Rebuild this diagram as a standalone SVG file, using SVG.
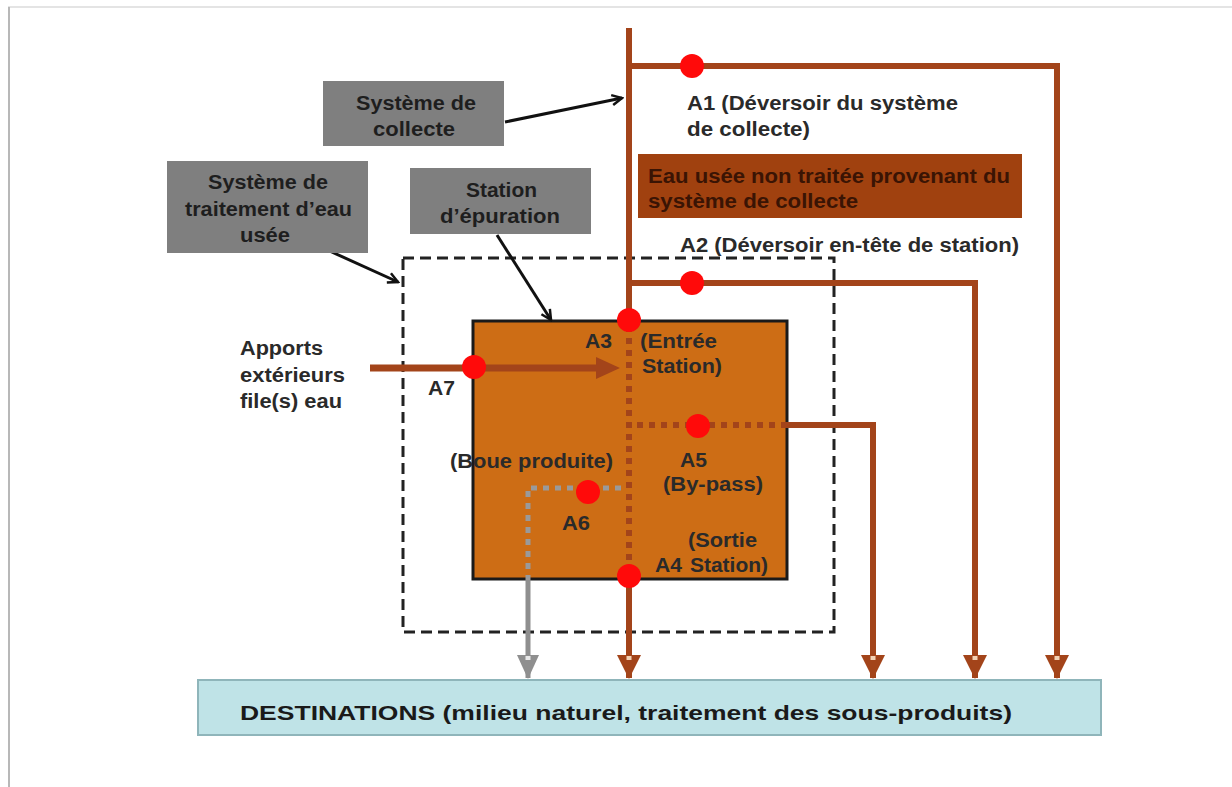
<svg xmlns="http://www.w3.org/2000/svg" width="1232" height="787" viewBox="0 0 1232 787">
<style>
  text { font-family: "Liberation Sans", Arial, sans-serif; font-weight: bold; }
  .lbl { font-size: 20px; fill: #2a2a2a; }
  .box { font-size: 20px; fill: #1e1e1e; }
  .grey { fill: #7f7f7f; }
  .pipe { stroke: #a3441a; stroke-width: 6; fill: none; }
  .dotb { stroke: #a3441a; stroke-width: 6; fill: none; stroke-dasharray: 6 6; }
  .dotg { stroke: #9a9a9a; stroke-width: 5; fill: none; stroke-dasharray: 6 6; }
  .blk { stroke: #111; stroke-width: 3; fill: none; }
  .pt { fill: #ff0a0a; }
</style>
<defs>
  <marker id="ab" viewBox="0 0 26 26" refX="24" refY="13" markerWidth="26" markerHeight="26" markerUnits="userSpaceOnUse" orient="auto">
    <path d="M1,1 L25,13 L1,25 Z" fill="#a3441a"/>
    <rect x="2" y="10.5" width="4" height="5" fill="#f3d2b4"/>
  </marker>
  <marker id="ag" viewBox="0 0 26 26" refX="24" refY="13" markerWidth="26" markerHeight="26" markerUnits="userSpaceOnUse" orient="auto">
    <path d="M1,2 L25,13 L1,24 Z" fill="#8f8f8f"/>
    <rect x="2" y="10.5" width="4" height="5" fill="#e8e8e8"/>
  </marker>
  <marker id="ak" viewBox="0 0 14 14" refX="12" refY="7" markerWidth="14" markerHeight="14" markerUnits="userSpaceOnUse" orient="auto">
    <path d="M2,2 L12,7 L2,12" fill="none" stroke="#111" stroke-width="2.5"/>
  </marker>
</defs>
<rect width="1232" height="787" fill="#ffffff"/>
<line x1="8" y1="7" x2="1232" y2="7" stroke="#e4e4e4" stroke-width="2"/>
<line x1="9" y1="7" x2="9" y2="787" stroke="#b8b8b8" stroke-width="2"/>

<g id="destinations">
  <rect x="198" y="680" width="903" height="55" fill="#bfe3e7" stroke="#8fb5ba" stroke-width="2"/>
  <text x="240" y="720" font-size="21" fill="#1a1a1a" textLength="772" lengthAdjust="spacingAndGlyphs">DESTINATIONS (milieu naturel, traitement des sous-produits)</text>
</g>

<g id="traitement-zone">
  <rect x="403" y="258" width="431" height="374" fill="none" stroke="#222" stroke-width="3" stroke-dasharray="11 6"/>
</g>

<g id="station">
  <rect x="473" y="321" width="314" height="258" fill="#cd6d15" stroke="#1a1a1a" stroke-width="3"/>
</g>

<g id="connectors">
  <line class="pipe" x1="629" y1="28" x2="629" y2="320"/>
  <path class="pipe" d="M629,66 H1057 V678" marker-end="url(#ab)"/>
  <path class="pipe" d="M629,283 H975 V678" marker-end="url(#ab)"/>
  <line class="dotb" x1="629" y1="326" x2="629" y2="572"/>
  <line class="dotb" x1="637" y1="425" x2="787" y2="425"/>
  <path class="pipe" d="M787,425 H873 V678" marker-end="url(#ab)"/>
  <path class="pipe" d="M629,576 V678" marker-end="url(#ab)"/>
  <line x1="370" y1="368" x2="600" y2="368" stroke="#a3441a" stroke-width="7"/>
  <path d="M596,357 L620,368 L596,379 Z" fill="#a3441a"/>
  <path class="dotg" d="M621,488 H528 V580"/>
  <path d="M528,580 V678" stroke="#8f8f8f" stroke-width="5" fill="none" marker-end="url(#ag)"/>
  <line class="blk" x1="505" y1="122" x2="622" y2="98" marker-end="url(#ak)"/>
  <line class="blk" x1="323" y1="248" x2="398" y2="282" marker-end="url(#ak)"/>
  <line class="blk" x1="497" y1="235" x2="551" y2="320" marker-end="url(#ak)"/>
</g>

<g id="points">
  <circle class="pt" cx="692" cy="66" r="12"/>
  <circle class="pt" cx="692" cy="283" r="12"/>
  <circle class="pt" cx="629" cy="320" r="12"/>
  <circle class="pt" cx="474" cy="367" r="12"/>
  <circle class="pt" cx="698" cy="426" r="12"/>
  <circle class="pt" cx="588" cy="492" r="12"/>
  <circle class="pt" cx="629" cy="576" r="12"/>
</g>

<g id="systeme-collecte">
  <rect class="grey" x="323" y="81" width="181" height="65"/>
  <text class="box" x="356" y="110" textLength="120" lengthAdjust="spacingAndGlyphs">Système de</text>
  <text class="box" x="373" y="136" textLength="82" lengthAdjust="spacingAndGlyphs">collecte</text>
</g>

<g id="systeme-traitement">
  <rect class="grey" x="167" y="161" width="201" height="92"/>
  <text class="box" x="208" y="189" textLength="120" lengthAdjust="spacingAndGlyphs">Système de</text>
  <text class="box" x="185" y="216" textLength="167" lengthAdjust="spacingAndGlyphs">traitement d’eau</text>
  <text class="box" x="240" y="242" textLength="50" lengthAdjust="spacingAndGlyphs">usée</text>
</g>

<g id="station-epuration">
  <rect class="grey" x="410" y="168" width="181" height="66"/>
  <text class="box" x="466" y="197" textLength="71" lengthAdjust="spacingAndGlyphs">Station</text>
  <text class="box" x="440" y="223" textLength="120" lengthAdjust="spacingAndGlyphs">d’épuration</text>
</g>

<g id="eau-usee">
  <rect x="638" y="154" width="384" height="64" fill="#a0410f"/>
  <text x="648" y="183" font-size="20" fill="#3a1404" textLength="362" lengthAdjust="spacingAndGlyphs">Eau usée non traitée provenant du</text>
  <text x="648" y="208" font-size="20" fill="#3a1404" textLength="210" lengthAdjust="spacingAndGlyphs">système de collecte</text>
</g>

<g id="labels">
  <text class="lbl" x="687" y="110" textLength="271" lengthAdjust="spacingAndGlyphs">A1 (Déversoir du système</text>
  <text class="lbl" x="687" y="136" textLength="123" lengthAdjust="spacingAndGlyphs">de collecte)</text>
  <text class="lbl" x="680" y="252" textLength="339" lengthAdjust="spacingAndGlyphs">A2 (Déversoir en-tête de station)</text>
  <text class="lbl" x="240" y="355" textLength="83" lengthAdjust="spacingAndGlyphs">Apports</text>
  <text class="lbl" x="240" y="382" textLength="105" lengthAdjust="spacingAndGlyphs">extérieurs</text>
  <text class="lbl" x="240" y="408" textLength="102" lengthAdjust="spacingAndGlyphs">file(s) eau</text>
  <text class="lbl" x="428" y="395" textLength="27" lengthAdjust="spacingAndGlyphs">A7</text>
  <text class="lbl" x="585" y="348" textLength="27" lengthAdjust="spacingAndGlyphs">A3</text>
  <text class="lbl" x="640" y="348" textLength="77" lengthAdjust="spacingAndGlyphs">(Entrée</text>
  <text class="lbl" x="642" y="373" textLength="80" lengthAdjust="spacingAndGlyphs">Station)</text>
  <text class="lbl" x="450" y="468" textLength="163" lengthAdjust="spacingAndGlyphs">(Boue produite)</text>
  <text class="lbl" x="680" y="467" textLength="27" lengthAdjust="spacingAndGlyphs">A5</text>
  <text class="lbl" x="663" y="491" textLength="100" lengthAdjust="spacingAndGlyphs">(By-pass)</text>
  <text class="lbl" x="562" y="530" textLength="28" lengthAdjust="spacingAndGlyphs">A6</text>
  <text class="lbl" x="688" y="547" textLength="69" lengthAdjust="spacingAndGlyphs">(Sortie</text>
  <text class="lbl" x="655" y="572" textLength="27" lengthAdjust="spacingAndGlyphs">A4</text>
  <text class="lbl" x="690" y="572" textLength="78" lengthAdjust="spacingAndGlyphs">Station)</text>
</g>
</svg>
